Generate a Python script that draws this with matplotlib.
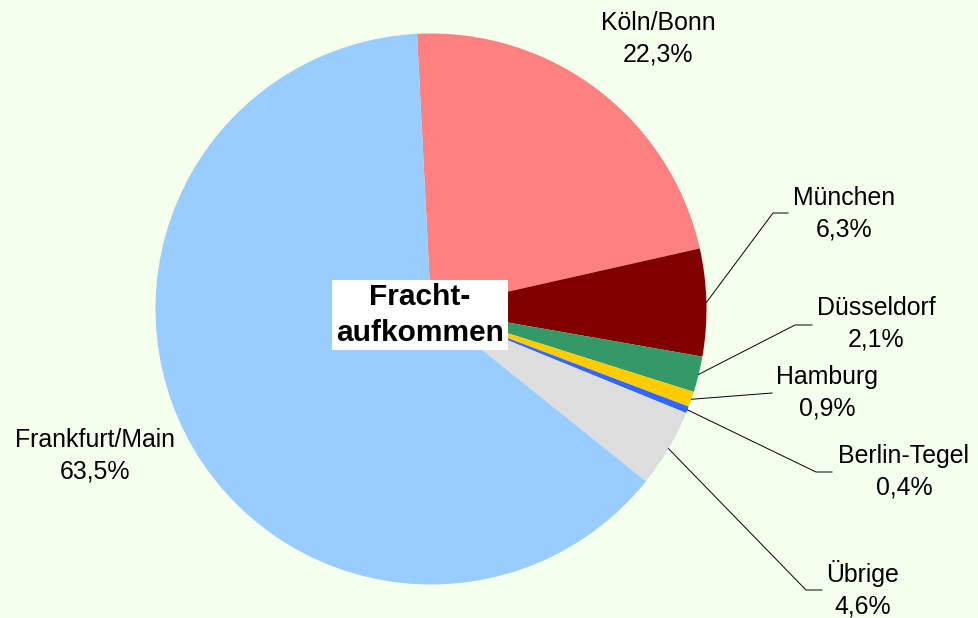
import matplotlib.pyplot as plt
import numpy as np

# Frachtaufkommen nach Flughafen (Anteile in %)
airports = ["Köln/Bonn", "München", "Düsseldorf", "Hamburg", "Berlin-Tegel", "Übrige", "Frankfurt/Main"]
shares = [22.3, 6.3, 2.1, 0.9, 0.4, 4.6, 63.5]
colors = ["#FF8080", "#800000", "#339966", "#FFCC00", "#3366FF", "#DDDDDD", "#99CCFF"]
pct_labels = ["22,3%", "6,3%", "2,1%", "0,9%", "0,4%", "4,6%", "63,5%"]

# layout in pixel coordinates (y from top)
label_pos = [(658, 39), (844, 214), (876, 324), (827, 393), (904, 472), (863, 589), (95, 456)]
# elbow of leader line: (x_knee, y_knee, x_end), None = no leader
leaders = [None, (773, 213, 788), (795, 325, 812), None, (816, 472, 832), (806, 590, 822), None]
hamburg_end = (772, 393)

W, H = 979, 618
bg = "#F4FFEE"
cx, cy, r = 431, 309, 275.5

plt.rcParams["font.family"] = ["Liberation Sans", "DejaVu Sans"]

fig = plt.figure(figsize=(W / 100, H / 100), dpi=100, facecolor=bg)
ax = fig.add_axes([0, 0, 1, 1])
ax.set_facecolor(bg)
ax.axis("off")

wedges, _ = ax.pie(shares, colors=colors, startangle=92.9, counterclock=False,
                   center=(cx, H - cy), radius=r,
                   wedgeprops=dict(linewidth=0))
ax.set_xlim(0, W)
ax.set_ylim(0, H)
ax.set_aspect("equal")

for i, w in enumerate(wedges):
    lx, ly = label_pos[i]
    ax.text(lx, H - ly, airports[i] + "\n" + pct_labels[i], ha="center", va="center",
            fontsize=17.9, linespacing=1.42, color="black")
    mid = np.deg2rad((w.theta1 + w.theta2) / 2)
    ex = cx + r * np.cos(mid)
    ey = (H - cy) + r * np.sin(mid)
    if leaders[i] is not None:
        kx, ky, endx = leaders[i]
        ax.plot([ex, kx, endx], [ey, H - ky, H - ky], color="black", lw=0.7)
    elif airports[i] == "Hamburg":
        ax.plot([ex, hamburg_end[0]], [ey, H - hamburg_end[1]], color="black", lw=0.7)

ax.text(420, H - 315, "Fracht-\naufkommen", ha="center", va="center",
        fontsize=21.5, fontweight="bold", linespacing=1.35,
        bbox=dict(boxstyle="square,pad=0.12", facecolor="white", edgecolor="none"))

fig.savefig("out.png", dpi=100, facecolor=bg)
